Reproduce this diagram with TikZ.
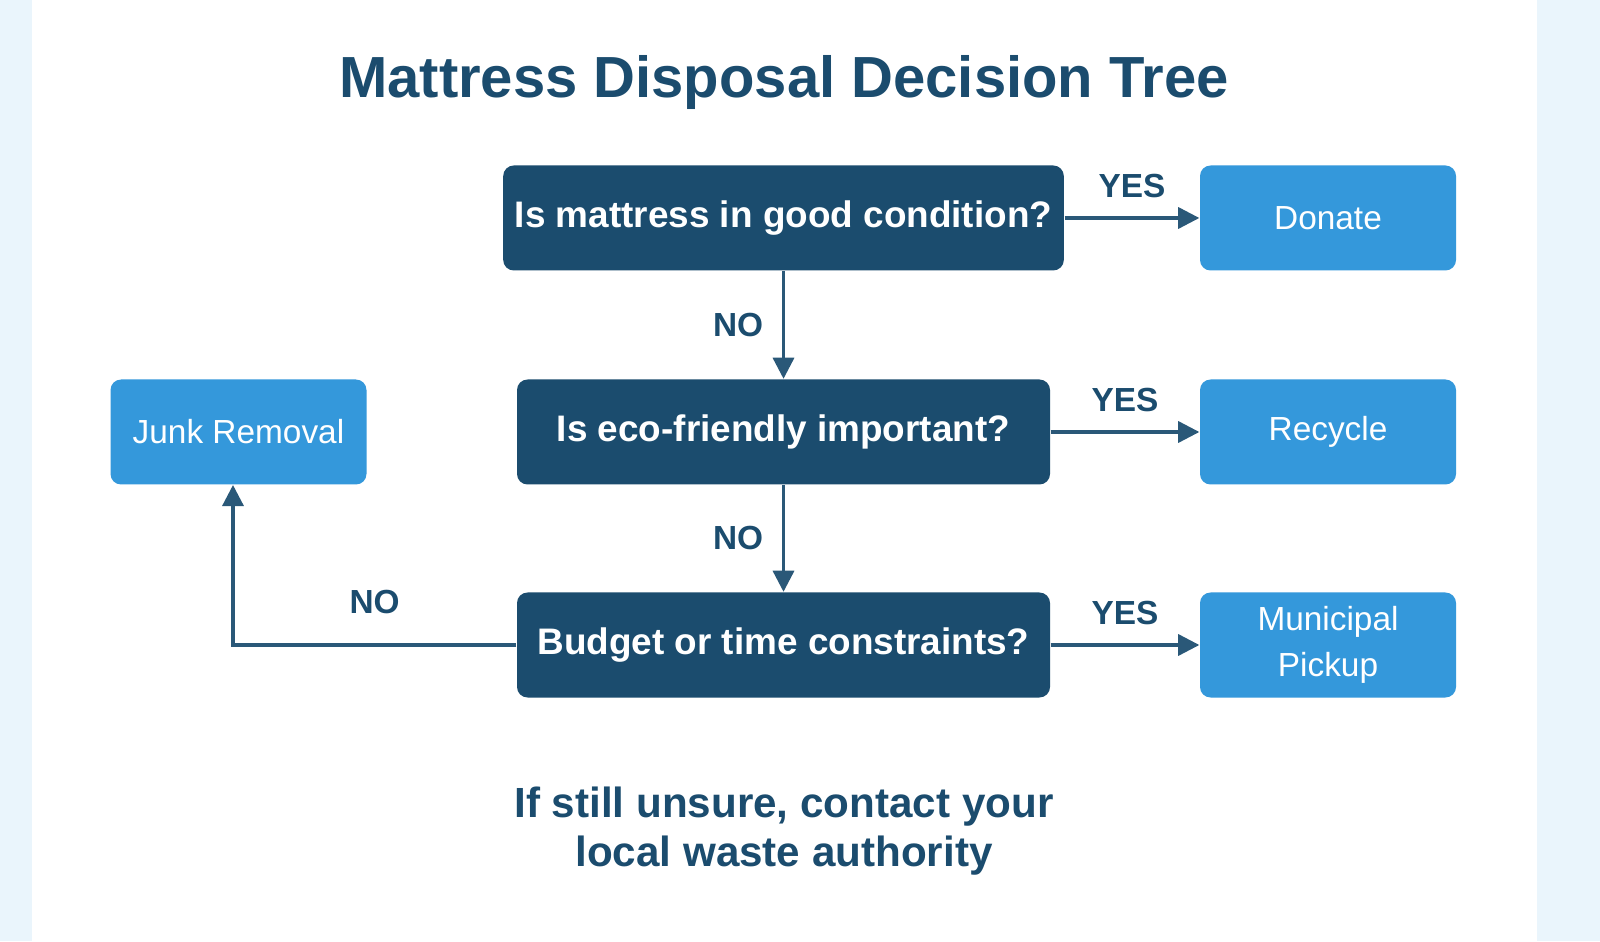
\documentclass[tikz,border=0pt]{standalone}
\usepackage{fontspec}
\setmainfont{Liberation Sans}
\usetikzlibrary{positioning,arrows.meta}
\definecolor{navy}{HTML}{1B4C6E}
\definecolor{sky}{HTML}{3498DB}
\definecolor{pale}{HTML}{EAF5FC}
\definecolor{wire}{HTML}{2A5878}
\begin{document}
\begin{tikzpicture}[
	question/.style={fill=navy, rounded corners=3pt, minimum width=5.33cm, minimum height=1.05cm, text=white, font=\bfseries\fontsize{10.5}{12}\selectfont},
	outcome/.style={fill=sky, rounded corners=3pt, minimum width=2.56cm, minimum height=1.05cm, text=white, align=center, font=\fontsize{9.5}{13}\selectfont},
	link/.style={draw=wire, line width=0.9pt, -{Triangle[length=6pt,width=6pt]}},
	answer/.style={text=navy, font=\bfseries\fontsize{9.5}{11}\selectfont},
]
	% background and panel
	\fill[pale] (0,0) rectangle (16,9.41);
	\fill[white] (0.32,0) rectangle (15.37,9.41);
	\useasboundingbox (0,0) rectangle (16,9.41);

	\node[text=navy, font=\bfseries\fontsize{16.5}{19}\selectfont] (title) at (7.84,8.58) {Mattress Disposal Decision Tree};

	% questions
	\node[question] (good) at (7.835,7.23) {Is mattress in good condition?};
	\node[question] (eco) at (7.835,5.09) {Is eco-friendly important?};
	\node[question] (budget) at (7.835,2.96) {Budget or time constraints?};

	% outcomes
	\node[outcome] (donate) at (13.28,7.23) {Donate};
	\node[outcome] (recycle) at (13.28,5.09) {Recycle};
	\node[outcome] (pickup) at (13.28,2.96) {Municipal\\Pickup};
	\node[outcome] (junk) at (2.385,5.09) {Junk Removal};

	% connectors
	\draw[link] (good) -- node[answer, above=2pt] {YES} (donate);
	\draw[link] (eco) -- node[answer, above=2pt] {YES} (recycle);
	\draw[link] (budget) -- node[answer, above=2pt] {YES} (pickup);
	\draw[link] (good) -- node[answer, left=2pt] {NO} (eco);
	\draw[link] (eco) -- node[answer, left=2pt] {NO} (budget);
	\draw[link] (budget.west) -- node[answer, above=5pt, pos=0.5] {NO} (2.33,2.96) -- (2.33,4.56);

	\node[text=navy, align=center, font=\bfseries\fontsize{12}{14}\selectfont] (note) at (7.84,1.10) {If still unsure, contact your\\local waste authority};
\end{tikzpicture}
\end{document}
